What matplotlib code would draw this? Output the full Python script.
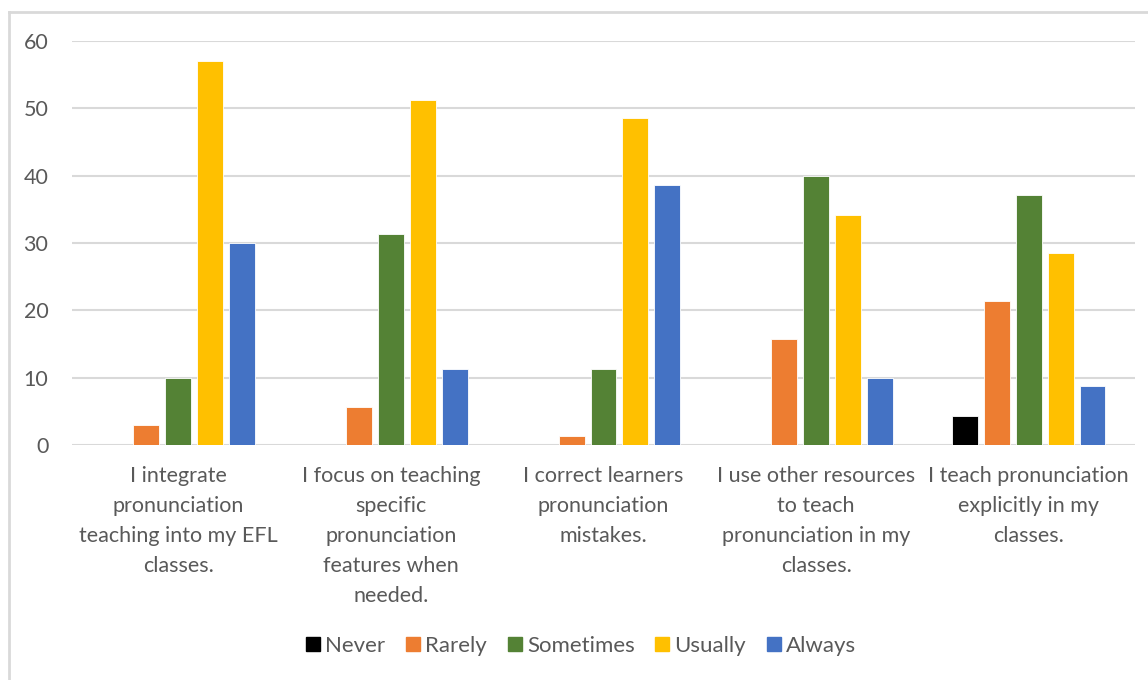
import matplotlib
matplotlib.use("Agg")
import matplotlib.pyplot as plt
from matplotlib.lines import Line2D
import numpy as np

categories = [
    "I integrate\npronunciation\nteaching into my EFL\nclasses.",
    "I focus on teaching\nspecific\npronunciation\nfeatures when\nneeded.",
    "I correct learners\npronunciation\nmistakes.",
    "I use other resources\nto teach\npronunciation in my\nclasses.",
    "I teach pronunciation\nexplicitly in my\nclasses.",
]
series_names = ["Never", "Rarely", "Sometimes", "Usually", "Always"]
never = [0, 0, 0, 0, 4.3]
rarely = [2.9, 5.6, 1.4, 15.7, 21.4]
sometimes = [10.0, 31.3, 11.3, 40.0, 37.1]
usually = [57.1, 51.3, 48.5, 34.2, 28.5]
always = [30.0, 11.3, 38.6, 10.0, 8.7]
yticks = [0, 10, 20, 30, 40, 50, 60]

colors = ["#000000", "#ED7D31", "#548235", "#FFC000", "#4472C4"]
values = [never, rarely, sometimes, usually, always]

plt.rcParams['font.family'] = ['Lato', 'DejaVu Sans']
fig = plt.figure(figsize=(11.48, 6.8), dpi=100)
ax = fig.add_axes([72/1148, 1-445/680, (1135-72)/1148, (445-41)/680])

x = np.arange(len(categories))
slot = 0.15
width = 0.122
for i, (name, vals, c) in enumerate(zip(series_names, values, colors)):
    ax.bar(x + (i - 2) * slot, vals, width, color=c, label=name,
           edgecolor="white", linewidth=0.6, zorder=3)

ax.set_xlim(-0.5, len(categories) - 0.5)
ax.set_ylim(0, 60)
ax.set_yticks(yticks)
ax.set_yticklabels([str(t) for t in yticks])
ax.yaxis.grid(True, color="#D9D9D9", linewidth=1.5, zorder=0)
ax.set_axisbelow(True)
for s in ax.spines.values():
    s.set_visible(False)
ax.tick_params(axis="both", length=0, colors="#595959", labelsize=15.5)
ax.tick_params(axis="y", pad=17)
ax.set_xticks(x)
ax.set_xticklabels(categories, linespacing=1.62, va="top")
ax.tick_params(axis="x", pad=15)

handles = [Line2D([0], [0], marker="s", linestyle="", markersize=10,
                  markerfacecolor=c, markeredgecolor=c) for c in colors]
leg = fig.legend(handles, series_names, loc="center", bbox_to_anchor=(579/1148, 1-646/680),
                 ncol=5, frameon=False, fontsize=16, handletextpad=0.05,
                 columnspacing=0.75, handlelength=1.0)
for t in leg.get_texts():
    t.set_color("#595959")

# chart border lines (top and left)
fig.add_artist(Line2D([9/1148, 1.0], [1-12/680, 1-12/680], color="#D9D9D9", linewidth=2, transform=fig.transFigure))
fig.add_artist(Line2D([9/1148, 9/1148], [0, 1-12/680], color="#D9D9D9", linewidth=2, transform=fig.transFigure))

fig.savefig("out.png", dpi=100)
